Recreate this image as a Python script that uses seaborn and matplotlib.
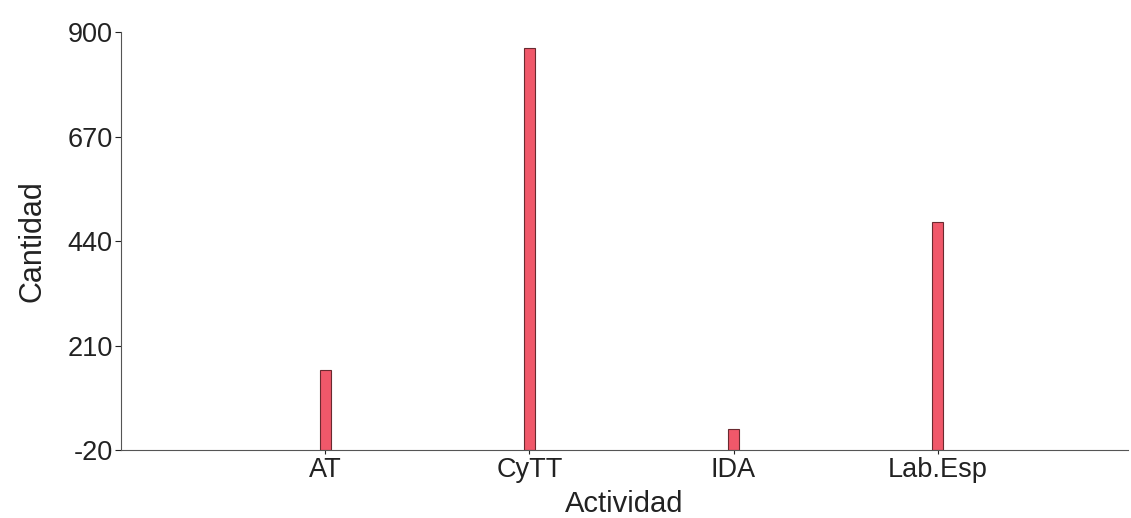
import matplotlib
matplotlib.use("Agg")
import matplotlib.pyplot as plt
import seaborn as sns
import pandas as pd

# data
actividades = ["AT", "CyTT", "IDA", "Lab.Esp"]
cantidades = [156, 866, 26, 481]
y_ticks = [-20, 210, 440, 670, 900]
BASE = -20

sns.set_theme(style="white")
plt.rcParams["font.family"] = ["Liberation Sans", "DejaVu Sans"]

df = pd.DataFrame({"Actividad": actividades, "Cantidad": cantidades})

fig = plt.figure(figsize=(11.31, 5.18), dpi=100)
ax = fig.add_axes([0.107, 0.131, 0.89, 0.807])

sns.barplot(data=df, x="Actividad", y="Cantidad", color="#f0586a",
            saturation=1, width=0.055, edgecolor="#6a2a30", linewidth=0.8, ax=ax)

# bars in the original rise from the axis floor (-20), not from zero
for p, v in zip(ax.patches, cantidades):
    p.set_y(BASE)
    p.set_height(v - BASE)

ax.set_ylim(-20, 900)
ax.set_xlim(-1.0, 3.93)
ax.set_yticks(y_ticks)
ax.set_yticklabels([str(t) for t in y_ticks])

for side in ["top", "right"]:
    ax.spines[side].set_visible(False)
for side in ["left", "bottom"]:
    ax.spines[side].set_color("#555555")
    ax.spines[side].set_linewidth(0.8)

ax.tick_params(axis="both", labelsize=19.5, colors="#222222", length=4,
               width=0.8, direction="out", left=True, bottom=True, pad=2)
ax.tick_params(axis="x", length=3)
ax.set_xlabel("Actividad", fontsize=21, color="#222222", labelpad=5)
ax.set_ylabel("Cantidad", fontsize=22, color="#222222", labelpad=14)

fig.savefig("out.png", dpi=100)
